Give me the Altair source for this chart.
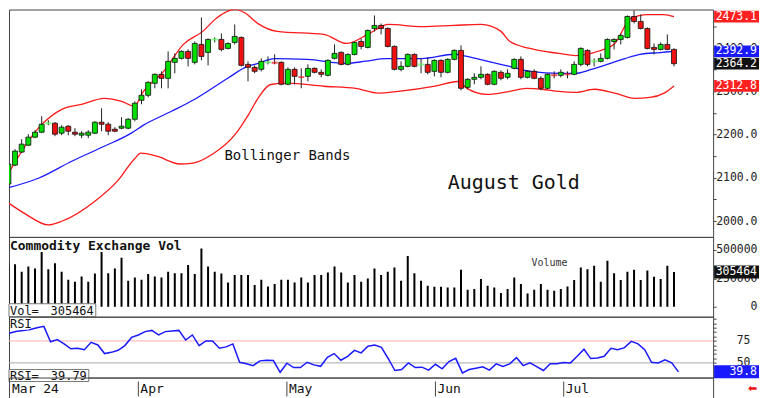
import altair as alt
import pandas as pd

# ---------------- data ----------------
opens = [2085.6, 2129.4, 2159.5, 2175.6, 2194.1, 2205.6, 2225.5, 2226.4, 2203.3, 2219.5,
         2205.6, 2198.7, 2198.7, 2203.3, 2228.7, 2224.1, 2212.5, 2214.9, 2214.9, 2235.6,
         2279.5, 2291.0, 2318.8, 2339.5, 2330.3, 2367.3, 2376.5, 2392.7, 2367.3, 2408.8,
         2390.3, 2419.6, 2420.4, 2399.6, 2413.4, 2425.0, 2362.6, 2355.7, 2351.1, 2366.5,
         2367.3, 2367.3, 2316.5, 2351.1, 2334.0, 2334.9, 2353.4, 2344.2, 2337.2, 2376.5,
         2390.3, 2362.6, 2385.7, 2415.7, 2401.9, 2445.8, 2452.7, 2445.8, 2404.2, 2351.1,
         2358.0, 2385.7, 2361.8, 2362.6, 2346.5, 2371.9, 2344.2, 2374.2, 2395.0, 2309.5,
         2328.0, 2332.6, 2339.5, 2316.5, 2344.2, 2332.6, 2353.4, 2374.2, 2332.6, 2346.5,
         2330.3, 2307.2, 2338.4, 2337.2, 2340.3, 2339.5, 2362.6, 2395.0, 2368.8, 2369.6,
         2376.5, 2415.7, 2420.4, 2425.0, 2473.5, 2462.0, 2445.8, 2401.9, 2397.3, 2408.8,
         2397.3]
highs = [2138.7, 2166.4, 2189.5, 2201.0, 2210.2, 2242.6, 2233.3, 2229.0, 2221.8, 2221.8,
         2214.9, 2207.9, 2210.2, 2231.0, 2261.0, 2228.7, 2217.2, 2240.3, 2238.0, 2277.2,
         2304.9, 2323.4, 2341.9, 2346.5, 2392.7, 2388.0, 2395.0, 2397.3, 2415.7, 2471.2,
         2422.7, 2425.0, 2434.2, 2413.4, 2455.0, 2427.3, 2369.6, 2360.3, 2376.5, 2381.1,
         2385.7, 2369.6, 2355.7, 2355.7, 2353.4, 2362.6, 2355.7, 2351.1, 2374.2, 2408.8,
         2392.7, 2388.0, 2415.7, 2422.7, 2443.4, 2475.8, 2457.3, 2448.1, 2406.5, 2369.6,
         2388.0, 2388.0, 2376.5, 2378.8, 2374.2, 2374.2, 2376.5, 2397.3, 2406.5, 2330.3,
         2341.9, 2358.0, 2341.9, 2348.8, 2348.8, 2351.1, 2376.5, 2381.1, 2348.8, 2351.1,
         2334.9, 2341.9, 2346.5, 2351.1, 2346.5, 2369.6, 2401.9, 2397.3, 2376.5, 2388.0,
         2422.7, 2422.7, 2434.2, 2475.8, 2487.3, 2478.1, 2448.1, 2411.1, 2413.4, 2431.9,
         2399.6]
lows = [2081.0, 2127.0, 2157.2, 2173.3, 2191.8, 2203.3, 2221.8, 2196.4, 2198.7, 2198.7,
        2196.4, 2191.8, 2191.8, 2201.0, 2207.9, 2198.7, 2205.6, 2212.5, 2212.5, 2231.0,
        2270.3, 2286.4, 2307.2, 2307.2, 2307.2, 2341.9, 2374.2, 2358.0, 2362.6, 2371.9,
        2360.3, 2413.4, 2392.7, 2397.3, 2408.8, 2358.0, 2323.4, 2341.9, 2346.5, 2362.6,
        2362.6, 2314.0, 2314.2, 2316.5, 2307.2, 2323.4, 2341.9, 2332.6, 2334.9, 2374.2,
        2360.3, 2360.3, 2383.4, 2397.3, 2399.6, 2438.8, 2431.9, 2401.9, 2348.8, 2346.5,
        2355.7, 2355.7, 2341.9, 2339.5, 2334.9, 2332.6, 2341.9, 2371.9, 2302.6, 2304.9,
        2316.5, 2328.0, 2314.2, 2314.2, 2325.7, 2328.0, 2351.1, 2328.0, 2330.3, 2328.0,
        2302.6, 2304.9, 2330.3, 2332.6, 2330.3, 2337.2, 2358.0, 2358.0, 2358.0, 2367.3,
        2374.2, 2397.3, 2408.8, 2422.7, 2457.3, 2443.5, 2397.3, 2385.7, 2395.0, 2395.0,
        2358.0]
closes = [2131.7, 2161.8, 2177.9, 2194.1, 2205.6, 2224.1, 2226.4, 2201.0, 2217.2, 2207.9,
          2201.0, 2203.3, 2205.6, 2228.7, 2224.1, 2207.9, 2207.9, 2219.5, 2235.6, 2272.6,
          2291.0, 2321.1, 2339.5, 2330.3, 2369.6, 2376.5, 2392.7, 2376.5, 2411.1, 2381.1,
          2420.4, 2420.4, 2397.3, 2411.1, 2427.3, 2360.3, 2355.7, 2346.5, 2369.6, 2367.3,
          2366.5, 2316.5, 2351.1, 2334.9, 2333.1, 2353.4, 2344.2, 2339.5, 2371.9, 2388.0,
          2362.6, 2385.7, 2413.4, 2404.2, 2441.1, 2452.7, 2445.8, 2404.2, 2351.1, 2358.0,
          2385.7, 2358.0, 2362.6, 2344.2, 2371.9, 2344.2, 2374.2, 2395.0, 2307.2, 2328.0,
          2332.6, 2339.5, 2316.5, 2346.5, 2330.3, 2341.9, 2374.2, 2332.6, 2346.5, 2330.3,
          2307.2, 2339.5, 2337.2, 2344.2, 2339.5, 2362.6, 2399.6, 2362.6, 2369.6, 2376.5,
          2420.4, 2420.4, 2429.6, 2473.5, 2462.0, 2445.8, 2399.6, 2397.3, 2408.8, 2397.3,
          2364.2]
volumes = [383000, 374000, 307000, 354000, 336000, 482000, 330000, 383000, 307000, 237000,
           219000, 266000, 219000, 292000, 482000, 295000, 336000, 430000, 228000, 257000,
           237000, 287000, 266000, 257000, 307000, 295000, 295000, 366000, 287000, 512000,
           354000, 307000, 292000, 213000, 278000, 278000, 278000, 190000, 237000, 178000,
           199000, 237000, 237000, 213000, 257000, 213000, 278000, 278000, 301000, 354000,
           301000, 213000, 278000, 219000, 248000, 336000, 278000, 307000, 345000, 228000,
           447000, 295000, 228000, 184000, 175000, 175000, 170000, 170000, 325000, 149000,
           155000, 243000, 184000, 170000, 120000, 155000, 257000, 199000, 117000, 149000,
           199000, 149000, 140000, 155000, 178000, 234000, 345000, 330000, 360000, 219000,
           404000, 295000, 234000, 307000, 325000, 234000, 318000, 263000, 243000, 360000,
           305464]
rsi = [79, 84, 86, 87, 88, 90, 91.6, 74, 76.5, 71.6,
       66, 66.6, 65, 73.4, 70.4, 60.6, 62, 64.3, 69.7, 79,
       81.8, 85.6, 87, 81.8, 85.6, 86.3, 87, 76, 81.8, 69.7,
       75, 75, 66.6, 68.2, 71.6, 50.7, 49, 46.9, 52.3, 53,
       52.6, 39.3, 49.6, 44.7, 44.7, 50.7, 47.7, 46.1, 56.4, 60.6,
       53, 57.5, 64.3, 61.4, 68.9, 70.4, 67.7, 55, 41.3, 42.4,
       50, 44.7, 45.1, 41.7, 48.4, 43.2, 51.5, 55.2, 38.6, 42.4,
       43.9, 45.5, 41.7, 48.9, 45.8, 48.9, 56, 46.9, 50, 45.8,
       41.3, 48.9, 48.9, 50.3, 50, 57.5, 65.5, 54.9, 55.5, 57.5,
       66.6, 65.1, 67.4, 74.5, 71.6, 65.1, 50.7, 50, 53.4, 50,
       39.79]

upper_idx = [0, 4.5, 8.1, 11, 14.4, 17, 18.9, 20.3, 23.3, 26.3, 29.2, 31.2, 34.1, 35.5,
             37.5, 40.4, 47.4, 50.8, 54.2, 57.1, 62.1, 67, 71, 74, 75.3, 78.2, 82.7, 85.2,
             88.6, 91.1, 93.5, 96, 98.5, 100]
upper_val = [2110, 2215, 2259, 2270, 2284, 2277, 2266, 2300, 2346, 2409, 2439, 2469, 2490, 2482,
             2457, 2439, 2432, 2411, 2434, 2455, 2450, 2453, 2455, 2439, 2416, 2400, 2388, 2383,
             2393, 2411, 2469, 2478, 2478, 2473.1]
mid_idx = [0, 4.5, 9.6, 14.4, 18.4, 20.3, 24.5, 28, 32.9, 35.9, 37.5, 40, 44.9, 50.8, 53.7,
           56.7, 62.1, 67, 68.9, 71.9, 75.3, 78.7, 82.7, 85.2, 87.6, 90.1, 92.6, 94.9, 97.9, 100]
mid_val = [2077, 2099, 2139, 2173, 2203, 2222, 2254, 2282, 2330, 2358, 2365, 2376, 2374, 2365,
           2370, 2376, 2376, 2386, 2381, 2370, 2358, 2346, 2342, 2342, 2351, 2363, 2376, 2386,
           2390, 2392.9]
lower_idx = [0, 2.6, 6, 8.1, 13, 16.4, 18.9, 19.9, 22.3, 25.8, 27.7, 30.7, 34.1, 36.1, 37.5,
             39.4, 41.9, 47.4, 52.2, 55.6, 58.6, 64.1, 67.5, 68.9, 71.9, 75.3, 77.8, 80.2, 82.7,
             85.2, 88.1, 91.1, 94.1, 96.4, 98.5, 100]
lower_val = [2042, 2016, 1991, 2000, 2046, 2093, 2143, 2157, 2150, 2132, 2134, 2155, 2201, 2247,
             2284, 2316, 2319, 2312, 2307, 2296, 2300, 2312, 2323, 2307, 2293, 2300, 2307, 2305,
             2300, 2298, 2305, 2296, 2284, 2286, 2296, 2312.8]

month_labels = ["Mar 24", "Apr", "May", "Jun", "Jul"]
month_idx = [0, 20, 42, 64, 83]

price_tags = ["2473.1", "2392.9", "2364.2", "2312.8"]
price_tag_vals = [2473.1, 2392.9, 2364.2, 2312.8]
price_tag_colors = ["#ff2020", "#1a1aff", "#111111", "#ff2020"]
vol_tag = ["305464"]
vol_tag_val = [305464]
rsi_tag = ["39.8"]
rsi_tag_val = [39.79]
rsi_full = ["39.79"]

# ---------------- styling ----------------
MONO = "DejaVu Sans Mono"
GREEN = "#00dd00"
RED = "#ee1111"
BLUE = "#1a1aff"
W = 706          # plot width (page x 8 .. 714)
TAG_X, TAG_X2, TAG_TX = 707, 752, 750

xs = alt.Scale(domain=[0.842, 105.13], nice=False, zero=False)
bx = alt.X("i:Q", scale=xs, axis=None)


def raxis(values, label_expr, pad, size=11.5):
    return alt.Axis(orient="right", title=None, values=values, labelExpr=label_expr,
                    domain=False, ticks=True, tickSize=3, tickColor="#444", grid=False,
                    labelAlign="right", labelBaseline="middle", labelPadding=pad,
                    labelFont=MONO, labelFontSize=size, labelColor="#222",
                    labelOverlap=False, labelFlush=False, labelBound=False)


cdf = pd.DataFrame({"i": list(range(len(closes))), "o": opens, "h": highs,
                    "l": lows, "c": closes, "v": volumes, "r": rsi})

# ---------------- price panel ----------------
ys = alt.Scale(domain=[1963.2, 2489.6], nice=False, zero=False)
pa = raxis(list(range(2000, 2451, 50)),
           "datum.value % 100 == 0 ? format(datum.value, '.1f') : ''", 41)


def band(ix, vals, color):
    return alt.Chart(pd.DataFrame({"i": ix, "v": vals})).mark_line(
        color=color, strokeWidth=1.3, interpolate="monotone", clip=True).encode(
        x=bx, y=alt.Y("v:Q", scale=ys, axis=pa))


wicks = alt.Chart(cdf).mark_rule(color="#222", strokeWidth=1, clip=True).encode(
    x=bx, y=alt.Y("l:Q", scale=ys, axis=pa), y2="h:Q")
bodies = alt.Chart(cdf).transform_filter("abs(datum.c - datum.o) >= 1.5").transform_calculate(
    col=f"datum.c >= datum.o ? '{GREEN}' : '{RED}'").mark_bar(
    width=5, stroke="#111", strokeWidth=0.8, clip=True).encode(
    x=bx, y=alt.Y("o:Q", scale=ys, axis=pa), y2="c:Q", color=alt.Color("col:N", scale=None))
dojis = alt.Chart(cdf).transform_filter("abs(datum.c - datum.o) < 1.5").transform_calculate(
    col=f"datum.c >= datum.o ? '#55ff55' : '{RED}'").mark_tick(
    orient="horizontal", thickness=2, size=6, clip=True).encode(
    x=bx, y=alt.Y("c:Q", scale=ys, axis=pa), color=alt.Color("col:N", scale=None))

tag_df = pd.DataFrame({"t": price_tags, "v": price_tag_vals, "col": price_tag_colors})
tag_rect = alt.Chart(tag_df).transform_calculate(lo="datum.v - 13.5", hi="datum.v + 13.5").mark_rect().encode(
    x=alt.value(TAG_X), x2=alt.value(TAG_X2), y=alt.Y("lo:Q", scale=ys, axis=pa), y2="hi:Q",
    color=alt.Color("col:N", scale=None))
tag_text = alt.Chart(tag_df).mark_text(align="right", baseline="middle", font=MONO,
                                       fontSize=11.5, color="white").encode(
    x=alt.value(TAG_TX), y=alt.Y("v:Q", scale=ys, axis=pa), text="t:N")

ann1 = alt.Chart(pd.DataFrame({"t": ["Bollinger Bands"]})).mark_text(
    align="left", baseline="middle", font=MONO, fontSize=14, color="#111").encode(
    x=alt.value(216), y=alt.value(147), text="t:N")
ann2 = alt.Chart(pd.DataFrame({"t": ["August Gold"]})).mark_text(
    align="left", baseline="middle", font=MONO, fontSize=20, color="#111").encode(
    x=alt.value(440), y=alt.value(174), text="t:N")

price = alt.layer(
    band(upper_idx, upper_val, "#ff1a1a"),
    band(lower_idx, lower_val, "#ff1a1a"),
    band(mid_idx, mid_val, BLUE),
    wicks, bodies, dojis, tag_rect, tag_text, ann1, ann2,
).properties(width=W, height=228)

# ---------------- volume panel ----------------
vs = alt.Scale(domain=[-87719, 614035], nice=False, zero=False)
va = raxis([0, 250000, 500000], "format(datum.value, 'd')", 41)
vbars = alt.Chart(cdf).mark_bar(width=2, color="#000", clip=True).encode(
    x=bx, y=alt.Y("v:Q", scale=vs, axis=va))
vtag_df = pd.DataFrame({"t": vol_tag, "v": vol_tag_val})
vtag_rect = alt.Chart(vtag_df).transform_calculate(lo="datum.v - 57000", hi="datum.v + 57000").mark_rect(
    color="#111").encode(x=alt.value(TAG_X), x2=alt.value(TAG_X2),
                         y=alt.Y("lo:Q", scale=vs, axis=va), y2="hi:Q")
vtag_text = alt.Chart(vtag_df).mark_text(align="right", baseline="middle", font=MONO,
                                         fontSize=11.5, color="white").encode(
    x=alt.value(TAG_TX), y=alt.Y("v:Q", scale=vs, axis=va), text="t:N")
vtitle = alt.Chart(pd.DataFrame({"t": ["Commodity Exchange Vol"]})).mark_text(
    align="left", baseline="middle", font=MONO, fontSize=13, fontWeight="bold", color="#111").encode(
    x=alt.value(1), y=alt.value(9), text="t:N")
vsub = alt.Chart(pd.DataFrame({"t": ["Volume"]})).mark_text(
    align="left", baseline="middle", font=MONO, fontSize=10, color="#333").encode(
    x=alt.value(524), y=alt.value(26), text="t:N")
vbox = alt.Chart(pd.DataFrame({"t": ["Vol="]})).mark_rect(
    fill="white", stroke="#777", strokeWidth=1).encode(
    x=alt.value(0), x2=alt.value(87), y=alt.value(67), y2=alt.value(80))
vbox_l = alt.Chart(pd.DataFrame({"t": ["Vol="]})).mark_text(
    align="left", baseline="middle", font=MONO, fontSize=12, color="#111").encode(
    x=alt.value(1), y=alt.value(74), text="t:N")
vbox_r = alt.Chart(vtag_df).mark_text(
    align="right", baseline="middle", font=MONO, fontSize=12, color="#111").encode(
    x=alt.value(85), y=alt.value(74), text="t:N")

volume = alt.layer(vbars, vtag_rect, vtag_text, vtitle, vsub, vbox, vbox_l, vbox_r).properties(
    width=W, height=80)

# ---------------- RSI panel ----------------
rs = alt.Scale(domain=[33.3, 102.6], nice=False, zero=False)
ra = raxis(list(range(35, 101, 5)),
           "datum.value == 50 || datum.value == 75 ? format(datum.value, 'd') : ''", 34)
lvl = alt.Chart(pd.DataFrame({"r": [75, 50], "col": ["#ffb0b0", "#aaaaaa"]})).mark_rule(
    strokeWidth=1).encode(y=alt.Y("r:Q", scale=rs, axis=ra), color=alt.Color("col:N", scale=None))
rline = alt.Chart(cdf).mark_line(color=BLUE, strokeWidth=1.5, clip=True).encode(
    x=bx, y=alt.Y("r:Q", scale=rs, axis=ra))
rtag_df = pd.DataFrame({"t": rsi_tag, "v": rsi_tag_val, "full": rsi_full})
rtag_rect = alt.Chart(rtag_df).transform_calculate(lo="datum.v - 7.4", hi="datum.v + 7.4").mark_rect(
    color=BLUE).encode(x=alt.value(TAG_X), x2=alt.value(TAG_X2),
                       y=alt.Y("lo:Q", scale=rs, axis=ra), y2="hi:Q")
rtag_text = alt.Chart(rtag_df).mark_text(align="right", baseline="middle", font=MONO,
                                         fontSize=11.5, color="white").encode(
    x=alt.value(TAG_TX), y=alt.Y("v:Q", scale=rs, axis=ra), text="t:N")
rlab_bg = alt.Chart(pd.DataFrame({"t": ["RSI"]})).mark_rect(fill="white").encode(
    x=alt.value(1), x2=alt.value(20), y=alt.value(1), y2=alt.value(13))
rlab = alt.Chart(pd.DataFrame({"t": ["RSI"]})).mark_text(
    align="left", baseline="middle", font=MONO, fontSize=12, color="#111").encode(
    x=alt.value(1), y=alt.value(7), text="t:N")
rbox = alt.Chart(pd.DataFrame({"t": ["RSI="]})).mark_rect(
    fill="white", stroke="#777", strokeWidth=1).encode(
    x=alt.value(0), x2=alt.value(80), y=alt.value(53), y2=alt.value(65))
rbox_l = alt.Chart(pd.DataFrame({"t": ["RSI="]})).mark_text(
    align="left", baseline="middle", font=MONO, fontSize=12, color="#111").encode(
    x=alt.value(1), y=alt.value(59), text="t:N")
rbox_r = alt.Chart(rtag_df).mark_text(
    align="right", baseline="middle", font=MONO, fontSize=12, color="#111").encode(
    x=alt.value(78), y=alt.value(59), text="full:N")

rsi_panel = alt.layer(lvl, rline, rtag_rect, rtag_text, rlab_bg, rlab, rbox, rbox_l, rbox_r).properties(
    width=W, height=61)

# ---------------- date strip ----------------
mdf = pd.DataFrame({"m": month_labels, "i": month_idx})
seps = alt.Chart(mdf).mark_rule(color="#444", strokeWidth=1, clip=True).encode(
    x=bx, y=alt.value(4), y2=alt.value(19))
mtext = alt.Chart(mdf).transform_calculate(xi="max(datum.i, 1.0)").mark_text(
    align="left", baseline="middle", font=MONO, fontSize=13, dx=2, color="#111").encode(
    x=alt.X("xi:Q", scale=xs, axis=None), y=alt.value(12), text="m:N")
arrow = alt.Chart(pd.DataFrame({"t": ["⬅"]})).mark_text(
    align="center", baseline="middle", fontSize=11, color="#ee1111").encode(
    x=alt.value(745), y=alt.value(12), text="t:N")
dates = alt.layer(seps, mtext, arrow).properties(width=W, height=21)

chart = alt.vconcat(price, volume, rsi_panel, dates, spacing=0, bounds="flush").properties(
    padding=0,
    background="white",
).configure_view(stroke="#444", strokeWidth=1)

chart.save("out.html", embed_options={"renderer": "svg", "actions": False})
